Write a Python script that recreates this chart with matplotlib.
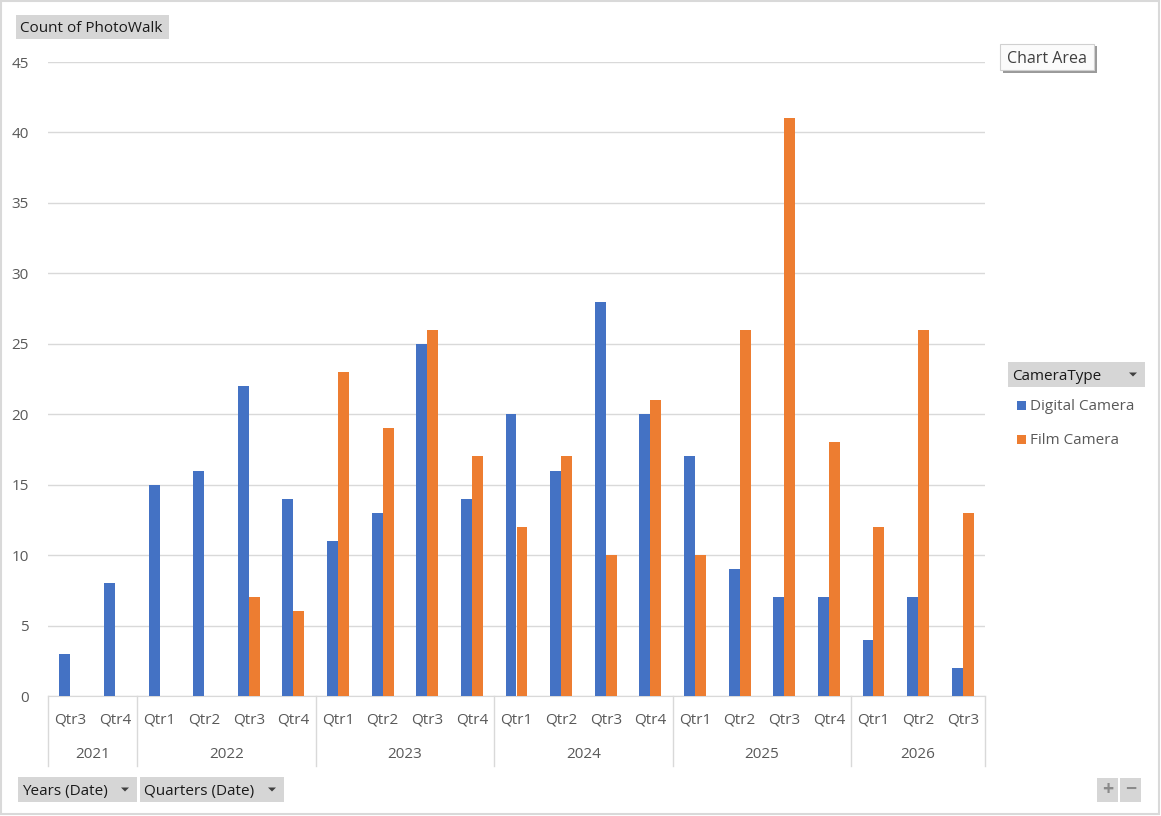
import matplotlib
matplotlib.use("Agg")
import matplotlib.pyplot as plt
from matplotlib.patches import Rectangle, Polygon
import numpy as np

plt.rcParams['font.family'] = ['Open Sans', 'DejaVu Sans']

years = ["2021", "2022", "2023", "2024", "2025", "2026"]
quarters = [["Qtr3", "Qtr4"],
            ["Qtr1", "Qtr2", "Qtr3", "Qtr4"],
            ["Qtr1", "Qtr2", "Qtr3", "Qtr4"],
            ["Qtr1", "Qtr2", "Qtr3", "Qtr4"],
            ["Qtr1", "Qtr2", "Qtr3", "Qtr4"],
            ["Qtr1", "Qtr2", "Qtr3"]]
digital = [3, 8, 15, 16, 22, 14, 11, 13, 25, 14, 20, 16, 28, 20, 17, 9, 7, 7, 4, 7, 2]
film = [0, 0, 0, 0, 7, 6, 23, 19, 26, 17, 12, 17, 10, 21, 10, 26, 41, 18, 12, 26, 13]

W, H = 1161, 816
BLUE = "#4472C4"
ORANGE = "#ED7D31"
GREY_TXT = "#595959"

fig = plt.figure(figsize=(W / 100, H / 100), dpi=100)

def fx(px):
    return px / W

def fy(py):
    return 1 - py / H

# plot area
x0, x1, ytop, ybot = 48, 985, 62, 696
ax = fig.add_axes([fx(x0), fy(ybot), fx(x1) - fx(x0), fy(ytop) - fy(ybot)])
n = len(digital)
x = np.arange(n)
bw = 0.245
ax.bar(x - bw / 2, digital, bw, color=BLUE, zorder=3)
ax.bar(x + bw / 2, film, bw, color=ORANGE, zorder=3)
ax.set_xlim(-0.5, n - 0.5)
ax.set_ylim(0, 45)
ax.set_yticks(range(0, 46, 5))
ax.yaxis.grid(True, color="#d9d9d9", linewidth=1)
ax.set_axisbelow(True)
for s in ["top", "right", "left"]:
    ax.spines[s].set_visible(False)
ax.spines["bottom"].set_color("#d9d9d9")
ax.tick_params(axis="y", length=0, labelsize=11, labelcolor=GREY_TXT, pad=14)
ax.set_xticks([])

# category labels (two levels)
ph = ybot - ytop
pos = 0
bounds = [-0.5]
for yr, qs in zip(years, quarters):
    for i, q in enumerate(qs):
        ax.text(pos + i, -(719 - ybot + 1.5) / ph, q, transform=ax.get_xaxis_transform(),
                ha="center", va="center", fontsize=11, color=GREY_TXT)
    ax.text(pos + (len(qs) - 1) / 2, -(753 - ybot + 1.5) / ph, yr,
            transform=ax.get_xaxis_transform(),
            ha="center", va="center", fontsize=11, color=GREY_TXT)
    pos += len(qs)
    bounds.append(pos - 0.5)
for b in bounds:
    ax.plot([b, b], [0, -(766 - ybot) / ph], transform=ax.get_xaxis_transform(),
            color="#d9d9d9", linewidth=1, clip_on=False)

# outer border
fig.patches.append(Rectangle((fx(1), fy(814)), fx(1158), fy(1) - fy(814),
                             transform=fig.transFigure, fill=False,
                             edgecolor="#d9d9d9", linewidth=1.5))

def button(left, top, right, bottom, label, arrow=True):
    fig.patches.append(Rectangle((fx(left), fy(bottom)), fx(right - left), fy(top) - fy(bottom),
                                 transform=fig.transFigure, facecolor="#d6d6d6",
                                 edgecolor="none"))
    fig.text(fx(left + 4), fy((top + bottom) / 2 + 2), label, ha="left", va="center",
             fontsize=11, color="#1a1a1a")
    if arrow:
        cx, cy = right - 12, (top + bottom) / 2
        fig.patches.append(Polygon([(fx(cx - 4), fy(cy - 2)), (fx(cx + 4), fy(cy - 2)),
                                    (fx(cx), fy(cy + 2))], closed=True,
                                   transform=fig.transFigure, facecolor="#404040",
                                   edgecolor="none"))

button(16, 15, 169, 39, "Count of PhotoWalk", arrow=False)
button(18, 777, 137, 802, "Years (Date)")
button(140, 777, 284, 802, "Quarters (Date)")
button(1008, 362, 1145, 387, "CameraType")

# legend
for py, col, lab in [(405, BLUE, "Digital Camera"), (439, ORANGE, "Film Camera")]:
    fig.patches.append(Rectangle((fx(1017), fy(py + 5)), fx(9), fy(py - 4) - fy(py + 5),
                                 transform=fig.transFigure, facecolor=col, edgecolor="none"))
    fig.text(fx(1030), fy(py + 2), lab, ha="left", va="center", fontsize=11, color=GREY_TXT)

# "Chart Area" tooltip
fig.patches.append(Rectangle((fx(1003), fy(73)), fx(94), fy(46) - fy(73),
                             transform=fig.transFigure, facecolor="#9a9a9a", edgecolor="none"))
fig.patches.append(Rectangle((fx(1000), fy(70)), fx(94), fy(44) - fy(70),
                             transform=fig.transFigure, facecolor="#fbfbfb",
                             edgecolor="#d0d0d0", linewidth=0.8))
fig.text(fx(1047), fy(59), "Chart Area", ha="center", va="center", fontsize=11.5,
         color="#404040")

# zoom buttons
for left, sym in [(1097, "+"), (1120, "\u2212")]:
    fig.patches.append(Rectangle((fx(left), fy(802)), fx(21), fy(778) - fy(802),
                                 transform=fig.transFigure, facecolor="#d6d6d6", edgecolor="none"))
    fig.text(fx(left + 10.5), fy(790), sym, ha="center", va="center", fontsize=14,
             color="#8a8a8a", fontweight="bold")

fig.savefig("out.png", dpi=100)
